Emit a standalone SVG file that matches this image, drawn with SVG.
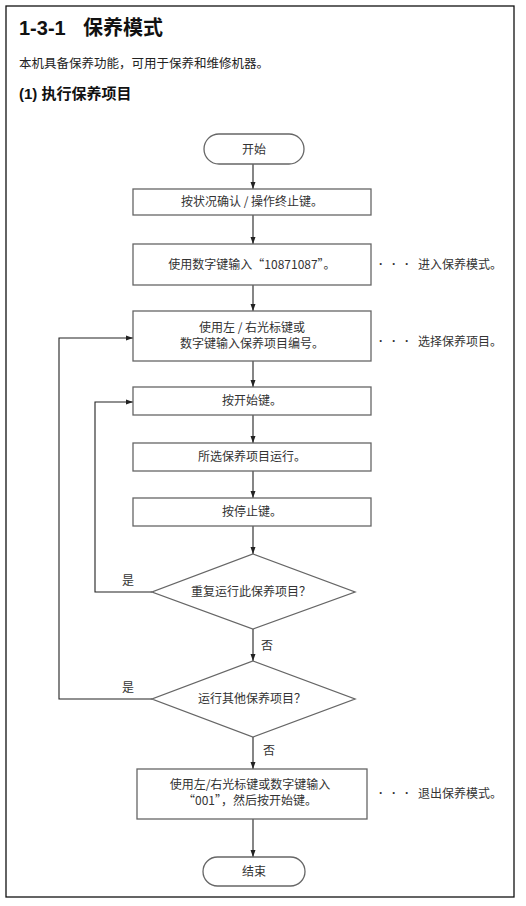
<svg xmlns="http://www.w3.org/2000/svg" width="526" height="906" viewBox="0 0 526 906">
<defs>
<marker id="arr" markerWidth="8" markerHeight="8" refX="7" refY="4" orient="auto" markerUnits="userSpaceOnUse">
<path d="M0,1.5 L7,4 L0,6.5 Z" fill="#222"/>
</marker>
<style>
.box{fill:#fff;stroke:#666;stroke-width:1.3}
.con{fill:none;stroke:#222;stroke-width:1.1}
.t{font-family:"Noto Sans CJK SC","Liberation Sans",sans-serif;font-size:12px;fill:#333;text-anchor:middle}
.side{font-family:"Noto Sans CJK SC","Liberation Sans",sans-serif;font-size:12px;fill:#333}
.dots{font-family:"Liberation Sans",sans-serif;font-size:12px;fill:#333;font-weight:bold}
.lbl{font-family:"Noto Sans CJK SC","Liberation Sans",sans-serif;font-size:12px;fill:#333}
</style>
</defs>
<rect x="6" y="6" width="508" height="891" fill="#fff" stroke="#111" stroke-width="1.3"/>
<text x="19" y="35" font-family="'Liberation Sans','Noto Sans CJK SC',sans-serif" font-size="20" font-weight="bold" fill="#111">1-3-1</text>
<text x="83" y="35" font-family="'Noto Sans CJK SC',sans-serif" font-size="20" font-weight="bold" fill="#111">保养模式</text>
<text x="19" y="68" font-family="'Noto Sans CJK SC',sans-serif" font-size="12.5" fill="#222">本机具备保养功能，可用于保养和维修机器。</text>
<text x="19" y="99" font-family="'Liberation Sans','Noto Sans CJK SC',sans-serif" font-size="15" font-weight="bold" fill="#111">(1) <tspan font-family="'Noto Sans CJK SC',sans-serif">执行保养项目</tspan></text>

<g id="connectors">
<line class="con" x1="253" y1="164" x2="253" y2="189" marker-end="url(#arr)"/>
<line class="con" x1="253" y1="215" x2="253" y2="244" marker-end="url(#arr)"/>
<line class="con" x1="253" y1="285" x2="253" y2="311" marker-end="url(#arr)"/>
<line class="con" x1="253" y1="361" x2="253" y2="387" marker-end="url(#arr)"/>
<line class="con" x1="253" y1="415" x2="253" y2="443" marker-end="url(#arr)"/>
<line class="con" x1="253" y1="471" x2="253" y2="498" marker-end="url(#arr)"/>
<line class="con" x1="253" y1="526" x2="253" y2="554" marker-end="url(#arr)"/>
<line class="con" x1="253" y1="629" x2="253" y2="661" marker-end="url(#arr)"/>
<line class="con" x1="253" y1="737" x2="253" y2="769" marker-end="url(#arr)"/>
<line class="con" x1="253" y1="819" x2="253" y2="857" marker-end="url(#arr)"/>
<polyline class="con" points="152,592 95,592 95,402 133,402" marker-end="url(#arr)"/>
<polyline class="con" points="152,699 59,699 59,338 133,338" marker-end="url(#arr)"/>
<text class="lbl" x="122" y="585">是</text>
<text class="lbl" x="122" y="692">是</text>
<text class="lbl" x="261" y="650">否</text>
<text class="lbl" x="263" y="755">否</text>
</g>

<g id="start">
<rect class="box" x="204" y="134" width="100" height="30" rx="15"/>
<text class="t" x="254" y="153.5">开始</text>
</g>
<g id="step1">
<rect class="box" x="133" y="189" width="238" height="26"/>
<text class="t" x="252" y="206">按状况确认 / 操作终止键。</text>
</g>
<g id="step2">
<rect class="box" x="133" y="244" width="238" height="41"/>
<text class="t" x="252" y="269">使用数字键输入“10871087”。</text>
<text class="dots" x="379 392 405" y="268">···</text>
<text class="side" x="418" y="269">进入保养模式。</text>
</g>
<g id="step3">
<rect class="box" x="133" y="311" width="238" height="50"/>
<text class="t" x="252" y="332">使用左 / 右光标键或</text>
<text class="t" x="252" y="347.5">数字键输入保养项目编号。</text>
<text class="dots" x="379 392 405" y="345">···</text>
<text class="side" x="418" y="346">选择保养项目。</text>
</g>
<g id="step4">
<rect class="box" x="133" y="387" width="238" height="28"/>
<text class="t" x="252" y="405">按开始键。</text>
</g>
<g id="step5">
<rect class="box" x="133" y="443" width="238" height="28"/>
<text class="t" x="252" y="461">所选保养项目运行。</text>
</g>
<g id="step6">
<rect class="box" x="133" y="498" width="238" height="28"/>
<text class="t" x="252" y="516">按停止键。</text>
</g>
<g id="decision1">
<polygon class="box" points="253,554 355,592 253,629 152,592"/>
<text class="t" x="251" y="596">重复运行此保养项目？</text>
</g>
<g id="decision2">
<polygon class="box" points="253,661 355,699 253,737 152,699"/>
<text class="t" x="252" y="703">运行其他保养项目？</text>
</g>
<g id="step7">
<rect class="box" x="137" y="769" width="230" height="50"/>
<text class="t" x="250" y="789">使用左/右光标键或数字键输入</text>
<text class="t" x="250" y="805">“001”，然后按开始键。</text>
<text class="dots" x="379 392 405" y="797">···</text>
<text class="side" x="418" y="798">退出保养模式。</text>
</g>
<g id="end">
<rect class="box" x="203" y="857" width="102" height="29" rx="14.5"/>
<text class="t" x="254" y="876">结束</text>
</g>
</svg>
